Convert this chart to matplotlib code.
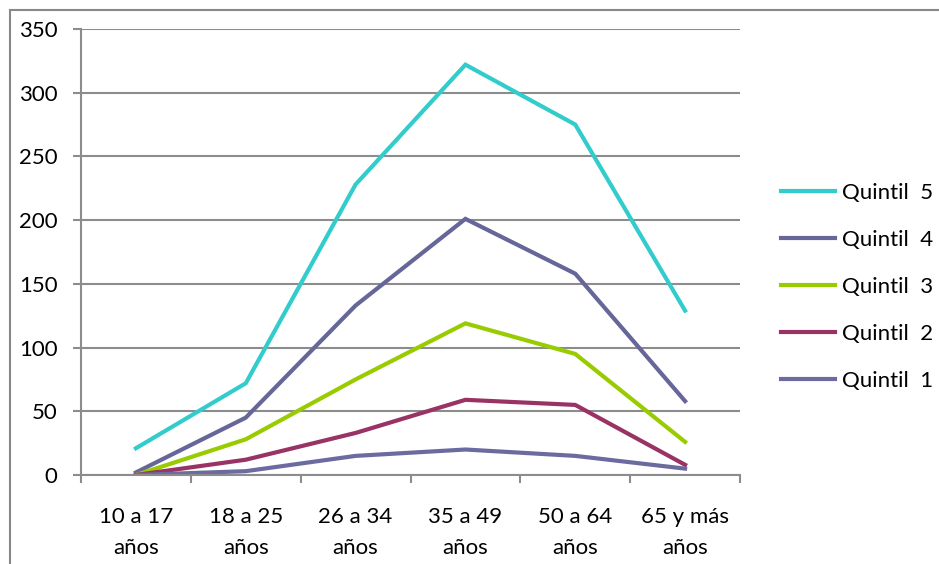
import matplotlib.pyplot as plt
from matplotlib.patches import Rectangle

plt.rcParams['font.family'] = ['Lato', 'DejaVu Sans']

grupos = ['10 a 17\naños', '18 a 25\naños', '26 a 34\naños',
          '35 a 49\naños', '50 a 64\naños', '65 y más\naños']
quintil_5 = [21, 72, 228, 322, 275, 129]
quintil_4 = [2, 45, 133, 201, 158, 58]
quintil_3 = [0, 28, 75, 119, 95, 26]
quintil_2 = [0, 12, 33, 59, 55, 8]
quintil_1 = [0, 3, 15, 20, 15, 5]

series = [
    ('Quintil  5', quintil_5, '#33CCCC'),
    ('Quintil  4', quintil_4, '#666699'),
    ('Quintil  3', quintil_3, '#99CC00'),
    ('Quintil  2', quintil_2, '#993366'),
    ('Quintil  1', quintil_1, '#6B6BA0'),
]

fig = plt.figure(figsize=(9.39, 5.64), dpi=100)
ax = fig.add_axes([81 / 939, 1 - 475 / 564, (740 - 81) / 939, (475 - 29) / 564])

x = list(range(len(grupos)))
for nombre, valores, color in series:
    ax.plot(x, valores, color=color, linewidth=3, label=nombre,
            solid_joinstyle='miter')

gris = '#8C8C8C'
ax.set_xlim(-0.5, len(grupos) - 0.5)
ax.set_ylim(0, 350)
ax.set_yticks(range(0, 351, 50))
ax.yaxis.grid(True, color=gris, linewidth=1.5)
ax.set_axisbelow(True)

ax.set_xticks(x)
ax.set_xticklabels(grupos, fontsize=16, linespacing=1.7)
ax.set_xticks([i - 0.5 for i in range(len(grupos) + 1)], minor=True)
ax.tick_params(axis='x', which='major', length=0, pad=23)
ax.tick_params(axis='x', which='minor', length=6, width=1.5, color=gris)
ax.tick_params(axis='y', length=6, width=1.5, color=gris, labelsize=16, pad=11)

for lado in ['top', 'right']:
    ax.spines[lado].set_visible(False)
for lado in ['left', 'bottom']:
    ax.spines[lado].set_color(gris)
    ax.spines[lado].set_linewidth(1.5)

ax.legend(loc='center left', bbox_to_anchor=(781 / 939, 1 - 287 / 564),
          bbox_transform=fig.transFigure, frameon=False, borderpad=0,
          borderaxespad=0, fontsize=16, handlelength=2.45,
          handletextpad=0.3, labelspacing=1.22)

# marco exterior del gráfico
fig.add_artist(Rectangle((10 / 939, -0.1), 1.2, 1 - 10 / 564 + 0.1,
                         transform=fig.transFigure, fill=False,
                         edgecolor='#888888', linewidth=1.5))

fig.savefig('out.png', dpi=100)
